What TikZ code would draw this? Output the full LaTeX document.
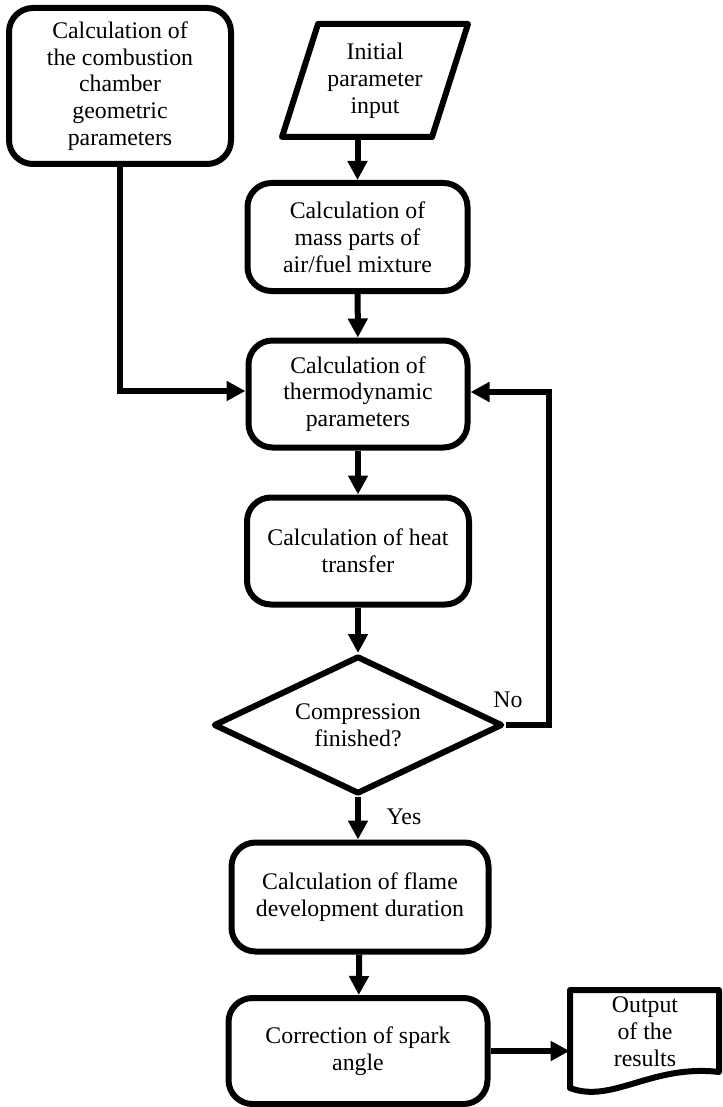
\documentclass[tikz,border=0pt]{standalone}
\usepackage{fontspec}
\setmainfont{Liberation Serif}
\usetikzlibrary{shapes.geometric,arrows.meta,calc}

\tikzset{
  txt/.style={font=\fontsize{11.9pt}{13.4pt}\selectfont, align=center, inner sep=1pt},
  procbox/.style={txt, draw, line width=3pt, rounded corners=12pt, fill=white},
  decision/.style={txt, draw, line width=3pt, diamond, aspect=2.1, line join=round},
  outline/.style={draw, line width=3pt, line join=round},
  flow/.style={line width=3pt, -{Triangle[length=9.5pt,width=9.5pt]}},
  lbl/.style={font=\fontsize{11.9pt}{13.4pt}\selectfont, inner sep=0pt}
}

\begin{document}
\begin{tikzpicture}[x=0.5pt,y=-0.5pt]
  \useasboundingbox (0,0) rectangle (722,1107);

  % geometry of the combustion chamber
  \node[procbox, minimum width=111pt, minimum height=78pt] (geom) at (120,86)
    {Calculation of\\the combustion\\chamber\\geometric\\parameters};

  % initial data (input parallelogram)
  \path[outline] (318,24) -- (468,24) -- (432,137) -- (282,137) -- cycle;
  \node[txt, minimum height=56.5pt] (inp) at (375,80.5) {Initial\\parameter\\input};

  % main chain of calculation steps
  \node[procbox, minimum width=110pt, minimum height=54pt] (mass) at (357.5,237)
    {Calculation of\\mass parts of\\air/fuel mixture};
  \node[procbox, minimum width=109.5pt, minimum height=53.5pt] (thermo) at (358,394)
    {Calculation of\\thermodynamic\\parameters};
  \node[procbox, minimum width=111pt, minimum height=53.5pt] (heat) at (358,551)
    {Calculation of heat\\transfer};
  \node[decision, minimum width=144.5pt, minimum height=69pt] (dia) at (358,725)
    {Compression\\finished?};
  \node[procbox, minimum width=128.5pt, minimum height=54.5pt] (flame) at (360,897)
    {Calculation of flame\\development duration};
  \node[procbox, minimum width=129.5pt, minimum height=53pt] (spark) at (358,1051)
    {Correction of spark\\angle};

  % output document
  \path[outline] (570,990) -- (719,990) -- (719,1072)
    .. controls (652,1064) and (612,1104) .. (570,1088) -- cycle;
  \node[txt, minimum width=75pt, minimum height=48pt] (out) at (645,1032)
    {Output\\of the\\results};

  % connectors
  \draw[flow] (inp.south -| mass.north) -- (mass.north);
  \draw[flow] (mass) -- (thermo);
  \draw[flow] (geom.south) |- ($(thermo.west)+(0,-3)$);
  \draw[flow] (thermo) -- (heat);
  \draw[flow] (heat) -- (dia);
  \draw[flow] (dia.south) -- (dia.south |- flame.north);
  \draw[flow] (flame) -- (spark);
  \draw[flow] (dia.east) -- ++(43,0) |- ($(thermo.east)+(0,-2)$);
  \draw[flow] (spark.east) -- (spark.east -| out.west);

  % branch labels
  \node[lbl] (no) at (508,700) {No};
  \node[lbl] (yes) at (404,817) {Yes};
\end{tikzpicture}
\end{document}
